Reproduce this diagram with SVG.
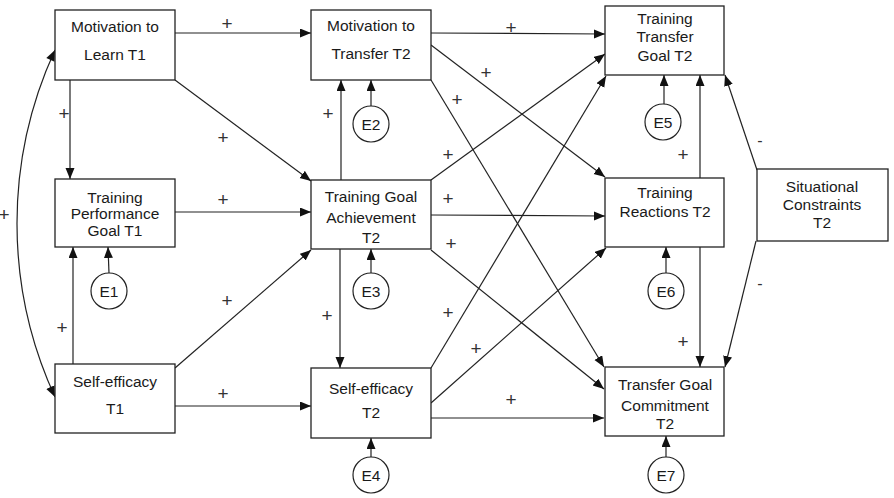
<svg xmlns="http://www.w3.org/2000/svg" width="894" height="498" viewBox="0 0 894 498">
<defs>
<marker id="arr" markerUnits="userSpaceOnUse" markerWidth="12" markerHeight="10" refX="11" refY="4.5" orient="auto">
<path d="M0,0 L11,4.5 L0,9 z" fill="#111"/>
</marker>
<marker id="arrS" markerUnits="userSpaceOnUse" markerWidth="12" markerHeight="10" refX="0" refY="4.5" orient="auto">
<path d="M11,0 L0,4.5 L11,9 z" fill="#111"/>
</marker>
<style>
.box{fill:#fff;stroke:#222;stroke-width:1.3}
.err{fill:#fff;stroke:#222;stroke-width:1.2}
.t{font-family:"Liberation Sans",Arial,sans-serif;font-size:15.5px;fill:#1a1a1a;text-anchor:middle}
.s{font-family:"Liberation Sans",Arial,sans-serif;font-size:19px;fill:#333;text-anchor:middle}
.m{font-family:"Liberation Sans",Arial,sans-serif;font-size:16px;fill:#333;text-anchor:middle}
.c line,.c path{stroke:#222;stroke-width:1.2;fill:none;marker-end:url(#arr)}
</style>
</defs>
<rect width="894" height="498" fill="#fff"/>

<g class="c" id="connectors">
<path d="M55,50 A415,415 0 0,0 55,397" marker-start="url(#arrS)"/>
<line x1="175" y1="33" x2="311" y2="33"/>
<line x1="175" y1="80" x2="311" y2="181"/>
<line x1="70" y1="80" x2="70" y2="179"/>
<line x1="175" y1="212" x2="311" y2="212"/>
<line x1="73" y1="364" x2="73" y2="247"/>
<line x1="109" y1="273" x2="108" y2="247"/>
<line x1="175" y1="368" x2="311" y2="250"/>
<line x1="175" y1="406" x2="311" y2="406"/>
<line x1="341" y1="180" x2="341" y2="80"/>
<line x1="371" y1="106" x2="371" y2="80"/>
<line x1="371" y1="273" x2="371" y2="249"/>
<line x1="340" y1="249" x2="340" y2="368"/>
<line x1="371" y1="457" x2="371" y2="438"/>
<line x1="431" y1="33" x2="605" y2="34"/>
<line x1="431" y1="45" x2="605" y2="177"/>
<line x1="431" y1="80" x2="604" y2="367"/>
<line x1="431" y1="180" x2="605" y2="54"/>
<line x1="431" y1="215" x2="605" y2="216"/>
<line x1="431" y1="250" x2="604" y2="389"/>
<line x1="431" y1="368" x2="606" y2="76"/>
<line x1="431" y1="403" x2="606" y2="248"/>
<line x1="431" y1="418" x2="604" y2="418"/>
<line x1="664" y1="104" x2="664" y2="75"/>
<line x1="700" y1="178" x2="700" y2="75"/>
<line x1="666" y1="273" x2="666" y2="247"/>
<line x1="700" y1="247" x2="700" y2="367"/>
<line x1="666" y1="457" x2="666" y2="436"/>
<line x1="757" y1="170" x2="725" y2="75"/>
<line x1="756" y1="241" x2="725" y2="367"/>
</g>

<g id="edge-labels">
<text class="s" x="227" y="30">+</text>
<text class="s" x="64" y="120">+</text>
<text class="s" x="223" y="144">+</text>
<text class="s" x="223" y="206">+</text>
<text class="s" x="4" y="221">+</text>
<text class="s" x="62" y="334">+</text>
<text class="s" x="227" y="307">+</text>
<text class="s" x="223" y="400">+</text>
<text class="s" x="511" y="34">+</text>
<text class="s" x="328" y="120">+</text>
<text class="s" x="486" y="79">+</text>
<text class="s" x="457" y="106">+</text>
<text class="s" x="448" y="161">+</text>
<text class="s" x="448" y="205">+</text>
<text class="s" x="451" y="250">+</text>
<text class="s" x="327" y="322">+</text>
<text class="s" x="448" y="319">+</text>
<text class="s" x="476" y="355">+</text>
<text class="s" x="511" y="406">+</text>
<text class="s" x="683" y="161">+</text>
<text class="s" x="683" y="348">+</text>
<text class="m" x="760" y="146">-</text>
<text class="m" x="760" y="289">-</text>
</g>

<g id="mtl"><rect class="box" x="55" y="10" width="120" height="70"/>
<text class="t" x="115" y="32">Motivation to</text><text class="t" x="115" y="60">Learn T1</text></g>
<g id="tpg"><rect class="box" x="55" y="179" width="120" height="68"/>
<text class="t" x="115" y="203">Training</text><text class="t" x="115" y="219">Performance</text><text class="t" x="115" y="236">Goal T1</text></g>
<g id="se1"><rect class="box" x="55" y="364" width="120" height="69"/>
<text class="t" x="115" y="387">Self-efficacy</text><text class="t" x="115" y="414">T1</text></g>
<g id="mtt"><rect class="box" x="311" y="10" width="120" height="70"/>
<text class="t" x="371" y="31">Motivation to</text><text class="t" x="371" y="59">Transfer T2</text></g>
<g id="tga"><rect class="box" x="311" y="180" width="120" height="69"/>
<text class="t" x="371" y="202">Training Goal</text><text class="t" x="371" y="223">Achievement</text><text class="t" x="371" y="243">T2</text></g>
<g id="se2"><rect class="box" x="311" y="368" width="120" height="70"/>
<text class="t" x="371" y="394">Self-efficacy</text><text class="t" x="371" y="418">T2</text></g>
<g id="ttg"><rect class="box" x="605" y="6" width="119" height="69"/>
<text class="t" x="665" y="24">Training</text><text class="t" x="665" y="42">Transfer</text><text class="t" x="665" y="61">Goal T2</text></g>
<g id="tr"><rect class="box" x="605" y="178" width="119" height="69"/>
<text class="t" x="665" y="198">Training</text><text class="t" x="665" y="217">Reactions T2</text></g>
<g id="tgc"><rect class="box" x="605" y="367" width="119" height="69"/>
<text class="t" x="665" y="390">Transfer Goal</text><text class="t" x="665" y="411">Commitment</text><text class="t" x="665" y="429">T2</text></g>
<g id="sc"><rect class="box" x="757" y="169" width="131" height="72"/>
<text class="t" x="822" y="192">Situational</text><text class="t" x="822" y="210">Constraints</text><text class="t" x="822" y="228">T2</text></g>

<g id="e1"><circle class="err" cx="109" cy="291" r="18"/><text class="t" x="109" y="297">E1</text></g>
<g id="e2"><circle class="err" cx="371" cy="124" r="18"/><text class="t" x="371" y="130">E2</text></g>
<g id="e3"><circle class="err" cx="371" cy="291" r="18"/><text class="t" x="371" y="297">E3</text></g>
<g id="e4"><circle class="err" cx="371" cy="475" r="18"/><text class="t" x="371" y="481">E4</text></g>
<g id="e5"><circle class="err" cx="663" cy="122" r="18"/><text class="t" x="663" y="128">E5</text></g>
<g id="e6"><circle class="err" cx="666" cy="291" r="18"/><text class="t" x="666" y="297">E6</text></g>
<g id="e7"><circle class="err" cx="666" cy="475" r="18"/><text class="t" x="666" y="481">E7</text></g>
</svg>
